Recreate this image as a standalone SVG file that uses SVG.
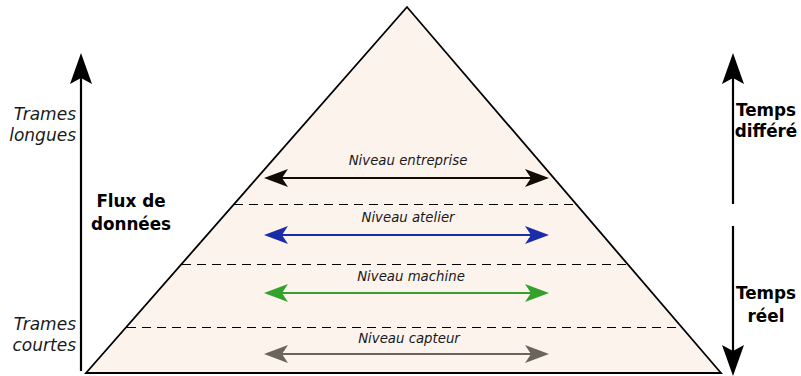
<svg xmlns="http://www.w3.org/2000/svg" width="801" height="376" viewBox="0 0 801 376">
<style>
.it{font-family:"DejaVu Sans",sans-serif;font-style:italic;}
.lvl{font-size:13.3px;text-anchor:middle;fill:#1a1a1a;}
.side{font-size:17px;text-anchor:end;fill:#1a1a1a;}
.bd{font-family:"DejaVu Sans",sans-serif;font-weight:bold;font-size:16.8px;text-anchor:middle;fill:#000;}
.dash{stroke:#000;stroke-width:1.1;stroke-dasharray:9,6;fill:none;}
.ax{stroke:#000;stroke-width:2.2;fill:none;}
</style>
<rect width="801" height="376" fill="#fff"/>
<g id="pyramid">
<polygon points="407,7 86,373 721,373" fill="#fcf3ed" stroke="#000" stroke-width="1.8" stroke-linejoin="miter"/>
<line class="dash" x1="234" y1="204.5" x2="577" y2="204.5"/>
<line class="dash" x1="182" y1="264.5" x2="628" y2="264.5"/>
<line class="dash" x1="127" y1="327.5" x2="683" y2="327.5"/>
</g>
<g id="connectors">
<g id="arrow-entreprise" fill="#120a05" stroke="#120a05">
<line x1="272" y1="178" x2="542" y2="178" stroke-width="2.2"/>
<path d="M264,178 L288,169 L282,178 L288,187 Z" stroke="none"/>
<path d="M549,178 L525,169 L531,178 L525,187 Z" stroke="none"/>
</g>
<g id="arrow-atelier" fill="#1a2ca8" stroke="#1a2ca8">
<line x1="272" y1="235" x2="542" y2="235" stroke-width="2.2"/>
<path d="M264,235 L288,226 L282,235 L288,244 Z" stroke="none"/>
<path d="M549,235 L525,226 L531,235 L525,244 Z" stroke="none"/>
</g>
<g id="arrow-machine" fill="#34a12c" stroke="#34a12c">
<line x1="272" y1="293" x2="542" y2="293" stroke-width="2.2"/>
<path d="M264,293 L288,284 L282,293 L288,302 Z" stroke="none"/>
<path d="M549,293 L525,284 L531,293 L525,302 Z" stroke="none"/>
</g>
<g id="arrow-capteur" fill="#6b645a" stroke="#6b645a">
<line x1="272" y1="354" x2="542" y2="354" stroke-width="2.2"/>
<path d="M264,354 L288,345 L282,354 L288,363 Z" stroke="none"/>
<path d="M549,354 L525,345 L531,354 L525,363 Z" stroke="none"/>
</g>
<g id="axis-left">
<line class="ax" x1="81" y1="371" x2="81" y2="70"/>
<path d="M81,53 L92,84 L81,78 L70,84 Z" fill="#000"/>
</g>
<g id="axis-right-up">
<line class="ax" x1="733" y1="204" x2="733" y2="70"/>
<path d="M733,53 L744,84 L733,78 L722,84 Z" fill="#000"/>
</g>
<g id="axis-right-down">
<line class="ax" x1="733" y1="226" x2="733" y2="360"/>
<path d="M733,376 L744,345 L733,351 L722,345 Z" fill="#000"/>
</g>
</g>
<g id="labels-levels">
<text class="it lvl" x="408" y="165">Niveau entreprise</text>
<text class="it lvl" x="408" y="222">Niveau atelier</text>
<text class="it lvl" x="411" y="281">Niveau machine</text>
<text class="it lvl" x="409" y="343">Niveau capteur</text>
</g>
<g id="label-trames-longues">
<text class="it side" x="76" y="120">Trames</text>
<text class="it side" x="76" y="141">longues</text>
</g>
<g id="label-trames-courtes">
<text class="it side" x="76" y="330">Trames</text>
<text class="it side" x="76" y="351">courtes</text>
</g>
<g id="label-flux">
<text class="bd" x="131" y="207">Flux de</text>
<text class="bd" x="131" y="230">données</text>
</g>
<g id="label-temps-differe">
<text class="bd" x="766" y="116">Temps</text>
<text class="bd" x="766" y="137">différé</text>
</g>
<g id="label-temps-reel">
<text class="bd" x="766" y="299">Temps</text>
<text class="bd" x="766" y="322">réel</text>
</g>
</svg>
